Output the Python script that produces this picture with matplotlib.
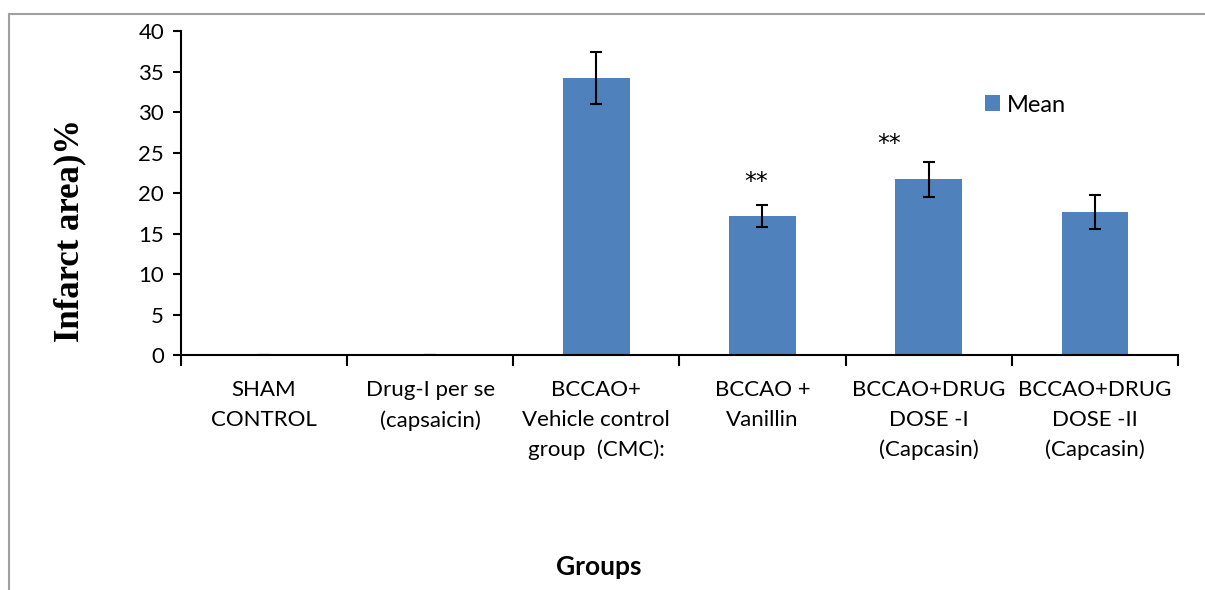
import numpy as np
import matplotlib.pyplot as plt
from matplotlib.lines import Line2D

groups = ['SHAM\nCONTROL', 'Drug-I per se\n(capsaicin)',
          'BCCAO+\nVehicle control\ngroup  (CMC):', 'BCCAO +\nVanillin',
          'BCCAO+DRUG\nDOSE -I\n(Capcasin)', 'BCCAO+DRUG\nDOSE -II\n(Capcasin)']
mean = [0.0, 0.0, 34.2, 17.2, 21.7, 17.7]
err = [0.0, 0.0, 3.2, 1.4, 2.2, 2.1]
stars = {3: '**', 4: '**'}

fig = plt.figure(figsize=(12.05, 5.9), dpi=100)
ax = fig.add_axes([0.150, 0.398, 0.8276, 0.549])

x = np.arange(len(groups))
ax.bar(x, mean, width=0.4, color='#4F81BD', label='Mean', zorder=2)
ax.errorbar(x, mean, yerr=err, fmt='none', ecolor='black',
            elinewidth=1.5, capsize=4.5, capthick=1.5, zorder=3)

# significance marks
ax.text(3 - 0.04, 21.4, stars[3], ha='center', va='center', fontsize=17,
        family='DejaVu Sans')
ax.text(4 - 0.24, 26.1, stars[4], ha='center', va='center', fontsize=17,
        family='DejaVu Sans')

ax.set_xlim(-0.5, len(groups) - 0.5)
ax.set_ylim(0, 40)
ax.set_yticks(np.arange(0, 41, 5))
ax.set_xticks(np.arange(-0.5, len(groups), 1.0))
ax.set_xticklabels([])
ax.set_xticks(x, groups, minor=True)
ax.tick_params(axis='x', which='major', direction='out', length=8, width=1.5)
ax.tick_params(axis='x', which='minor', length=0, pad=18, labelsize=16)
ax.tick_params(axis='y', direction='out', length=6, width=1.5, labelsize=16, pad=6)
for lab in ax.get_xticklabels(minor=True):
    lab.set_family('Lato')
    lab.set_linespacing(1.6)
for lab in ax.get_yticklabels():
    lab.set_family('Lato')

for s in ['top', 'right']:
    ax.spines[s].set_visible(False)
for s in ['left', 'bottom']:
    ax.spines[s].set_linewidth(1.5)

ax.set_ylabel('Infarct area)%', family='Liberation Serif', fontweight='bold',
              fontsize=25)
ax.yaxis.set_label_coords(-0.095, 0.386)

fig.text(0.497, 0.039, 'Groups', ha='center', va='center', fontsize=19,
         fontweight='bold', family='Lato')

ax.legend(loc='upper left', bbox_to_anchor=(0.785, 0.87), frameon=False,
          prop={'family': 'Lato', 'size': 17}, handlelength=0.65,
          handleheight=0.65, handletextpad=0.3)

# outer frame
fig.add_artist(Line2D([0.0075, 0.0075], [0.0, 0.976], color='#a0a0a0', lw=1.5))
fig.add_artist(Line2D([0.0075, 1.0], [0.976, 0.976], color='#a0a0a0', lw=1.5))

fig.savefig('out.png', dpi=100)
